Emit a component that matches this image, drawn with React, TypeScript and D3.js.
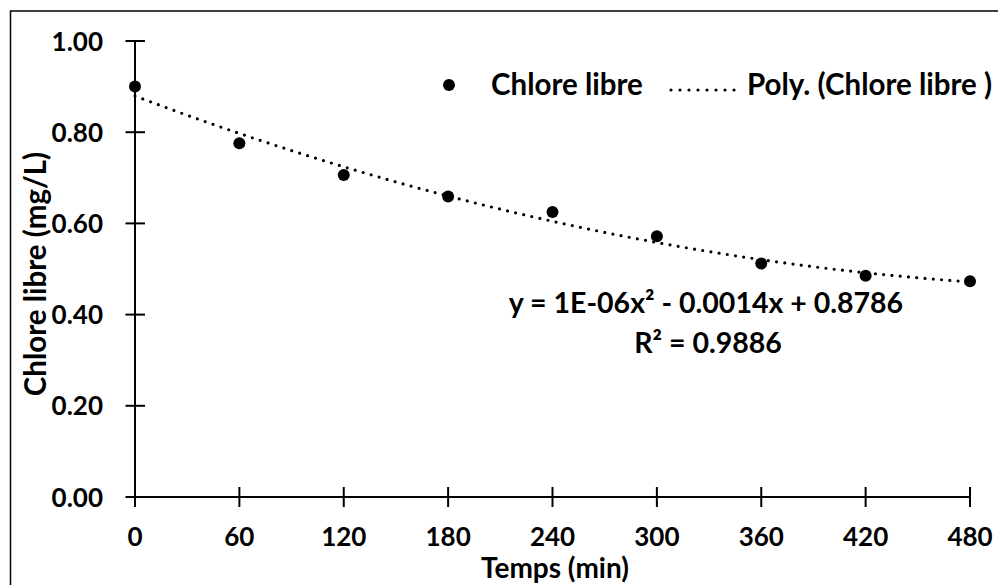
import React from "react";
import * as d3 from "d3";

const times = [0, 60, 120, 180, 240, 300, 360, 420, 480];
const chlore = [0.9, 0.776, 0.706, 0.659, 0.625, 0.572, 0.512, 0.485, 0.473];
const xTicks = [0, 60, 120, 180, 240, 300, 360, 420, 480];
const yTicks = [0, 0.2, 0.4, 0.6, 0.8, 1.0];
const seriesName = "Chlore libre";
const trendName = "Poly. (Chlore libre )";
const equationText = "y = 1E-06x² - 0.0014x + 0.8786";
const r2Text = "R² = 0.9886";
const xTitle = "Temps (min)";
const yTitle = "Chlore libre (mg/L)";

// least squares quadratic fit (Excel polynomial trendline, order 2)
function polyFit2(xs: number[], ys: number[]) {
  const n = xs.length;
  const s = [0, 0, 0, 0, 0];
  const t = [0, 0, 0];
  for (let i = 0; i < n; i++) {
    const xv = xs[i];
    for (let k = 0; k <= 4; k++) s[k] += Math.pow(xv, k);
    for (let k = 0; k <= 2; k++) t[k] += ys[i] * Math.pow(xv, k);
  }
  const A = [
    [s[0], s[1], s[2], t[0]],
    [s[1], s[2], s[3], t[1]],
    [s[2], s[3], s[4], t[2]],
  ];
  for (let i = 0; i < 3; i++) {
    let p = i;
    for (let r = i + 1; r < 3; r++) if (Math.abs(A[r][i]) > Math.abs(A[p][i])) p = r;
    [A[i], A[p]] = [A[p], A[i]];
    for (let r = 0; r < 3; r++) {
      if (r === i) continue;
      const f = A[r][i] / A[i][i];
      for (let c = i; c < 4; c++) A[r][c] -= f * A[i][c];
    }
  }
  return [A[0][3] / A[0][0], A[1][3] / A[1][1], A[2][3] / A[2][2]];
}

export default function App() {
  const W = 998, H = 585;
  const x = d3.scaleLinear().domain([0, 480]).range([135, 970]);
  const y = d3.scaleLinear().domain([0, 1]).range([497, 41]);
  const [c0, c1, c2] = polyFit2(times, chlore);
  const fitPts = d3.range(0, 480.01, 2).map((t) => [t, c0 + c1 * t + c2 * t * t]);
  const line = d3.line<number[]>().x((d) => x(d[0])).y((d) => y(d[1]));
  const font = "Lato, 'Open Sans', sans-serif";
  return (
    <svg width={W} height={H} style={{ position: "absolute", left: 0, top: 0 }}>
      <rect x={0} y={0} width={W} height={H} fill="#fff" />
      <rect x={10.5} y={11} width={1100} height={700} fill="#fff" stroke="#000" strokeWidth={1.5} />
      {/* trendline */}
      <path d={line(fitPts) || ""} fill="none" stroke="#000" strokeWidth={3.2} strokeDasharray="0 8.3" strokeLinecap="round" />
      {/* axes */}
      <line x1={x(0)} x2={x(0)} y1={y(1)} y2={y(0)} stroke="#000" strokeWidth={2} />
      <line x1={x(0)} x2={x(480)} y1={y(0)} y2={y(0)} stroke="#000" strokeWidth={2} />
      {yTicks.map((v) => (
        <g key={"y" + v}>
          <line x1={x(0) - 9.5} x2={x(0) + 10} y1={y(v)} y2={y(v)} stroke="#000" strokeWidth={2} />
          <text x={103} y={y(v) + 9.5} textAnchor="end" fontFamily={font} fontWeight={700} fontSize={26}>
            {v.toFixed(2)}
          </text>
        </g>
      ))}
      {xTicks.map((v) => (
        <g key={"x" + v}>
          <line x1={x(v)} x2={x(v)} y1={y(0) - 10} y2={y(0) + 10} stroke="#000" strokeWidth={2} />
          <text x={x(v)} y={546} textAnchor="middle" fontFamily={font} fontWeight={700} fontSize={26}>
            {v}
          </text>
        </g>
      ))}
      {/* points */}
      {times.map((t, i) => (
        <circle key={"p" + t} cx={x(t)} cy={y(chlore[i])} r={6} fill="#000" />
      ))}
      {/* equation */}
      <text x={706} y={313} textAnchor="middle" fontFamily={font} fontWeight={700} fontSize={28.5}>
        {equationText}
      </text>
      <text x={708} y={353} textAnchor="middle" fontFamily={font} fontWeight={700} fontSize={28.5}>
        {r2Text}
      </text>
      {/* legend */}
      <circle cx={449} cy={85} r={6} fill="#000" />
      <text x={491} y={95} fontFamily={font} fontWeight={700} fontSize={29.5}>
        {seriesName}
      </text>
      <line x1={671} x2={735} y1={90} y2={90} stroke="#000" strokeWidth={3.2} strokeDasharray="0 9" strokeLinecap="round" />
      <text x={747} y={95} fontFamily={font} fontWeight={700} fontSize={29.5}>
        {trendName}
      </text>
      {/* axis titles */}
      <text x={555} y={578} textAnchor="middle" fontFamily={font} fontWeight={700} fontSize={28}>
        {xTitle}
      </text>
      <text transform={`translate(46,274) rotate(-90)`} textAnchor="middle" fontFamily={font} fontWeight={700} fontSize={29.5}>
        {yTitle}
      </text>
    </svg>
  );
}
